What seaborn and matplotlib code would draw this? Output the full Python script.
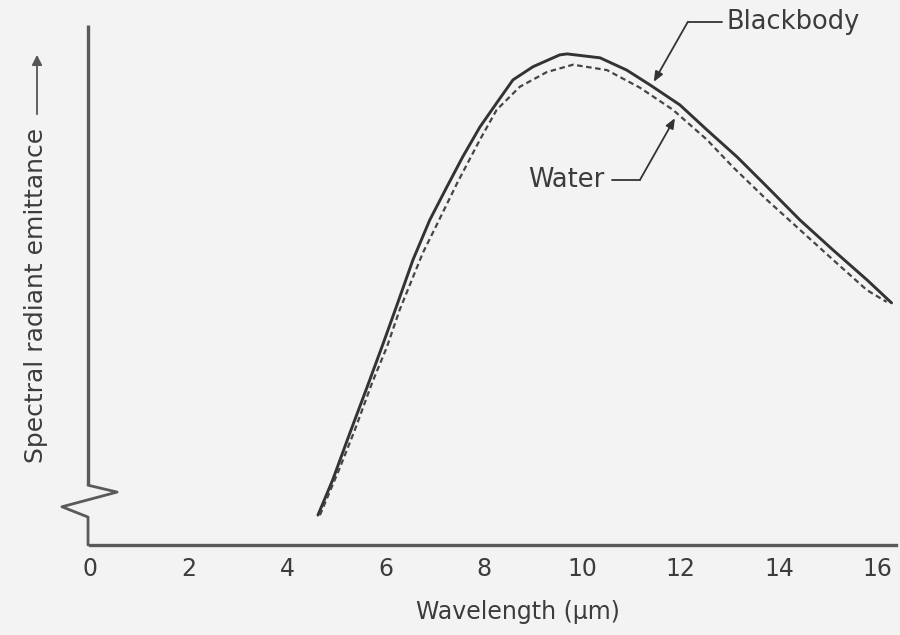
import numpy as np
import pandas as pd
import seaborn as sns
import matplotlib
matplotlib.use("Agg")
import matplotlib.pyplot as plt

# ---- data (wavelength in µm, relative emittance) ----
bb_wavelength = [4.63, 4.93, 5.28, 5.62, 5.95, 6.25, 6.56, 6.90, 7.25, 7.57, 7.92,
                 8.26, 8.59, 9.00, 9.54, 9.69, 10.36, 10.90, 11.37, 11.98, 12.53,
                 13.14, 13.75, 14.42, 15.09, 15.78, 16.28]
bb_emittance = [6.1, 13.3, 22.9, 32.0, 41.0, 49.4, 58.2, 66.3, 73.1, 79.2, 85.3,
                90.2, 94.9, 97.6, 100.0, 100.2, 99.4, 96.9, 93.9, 89.8, 84.7,
                79.2, 73.1, 66.3, 60.2, 54.1, 49.4]

water_wavelength = [4.67, 5.08, 5.38, 5.73, 6.03, 6.29, 6.76, 7.07, 7.46, 7.92, 8.26,
                    8.73, 9.28, 9.81, 10.50, 11.17, 11.84, 12.53, 13.06, 13.75, 14.42,
                    15.09, 15.78, 16.18]
water_emittance = [6.1, 15.9, 23.5, 33.1, 40.4, 48.0, 59.6, 65.9, 73.9, 82.7, 88.8,
                   93.5, 96.5, 98.0, 96.9, 93.3, 88.8, 82.7, 77.1, 70.4, 64.3,
                   58.2, 52.0, 49.6]

x_ticks = [0, 2, 4, 6, 8, 10, 12, 14, 16]
x_tick_labels = ["0", "2", "4", "6", "8", "10", "12", "14", "16"]

df = pd.concat([
    pd.DataFrame({"wavelength": bb_wavelength, "emittance": bb_emittance, "series": "Blackbody"}),
    pd.DataFrame({"wavelength": water_wavelength, "emittance": water_emittance, "series": "Water"}),
])

sns.set_style("white")
plt.rcParams["font.family"] = ["DejaVu Sans"]

BG = "#f3f3f3"
INK = "#333333"
AXC = "#5a5a5a"
TXT = "#3c3c3c"

fig = plt.figure(figsize=(9, 6.35), dpi=100, facecolor=BG)
ax = fig.add_axes([0.1, 1 - 545 / 635, (896 - 90) / 900, 545 / 635])
ax.set_facecolor(BG)

sns.lineplot(data=df, x="wavelength", y="emittance", hue="series", style="series",
             palette={"Blackbody": INK, "Water": "#454545"},
             dashes={"Blackbody": "", "Water": (2.5, 1.6)},
             sort=False, estimator=None, legend=False, ax=ax)
lines = ax.get_lines()
lines[0].set_linewidth(2.1)
lines[1].set_linewidth(1.6)

ax.set_xlim(0, 16.37)
ax.set_ylim(0, 111.2)

for s in ["top", "right", "left"]:
    ax.spines[s].set_visible(False)
ax.spines["bottom"].set_color(AXC)
ax.spines["bottom"].set_linewidth(2.4)

ax.set_xticks(x_ticks)
ax.set_xticklabels(x_tick_labels)
ax.set_yticks([])
ax.tick_params(axis="x", direction="in", length=13, width=1.8, color=AXC,
               pad=9, labelsize=17, labelcolor=TXT)
ax.set_xlabel("")
ax.set_ylabel("")

# broken y axis (decoration)
ax.plot([-0.04, -0.04], [12.2, 106.1], color=AXC, lw=2.4, clip_on=False, solid_capstyle="butt")
ax.plot([-0.04, 0.55, -0.57, -0.04, -0.04], [12.2, 10.8, 7.8, 5.7, 0.0],
        color=AXC, lw=2.0, clip_on=False)

# axis titles
fig.text(518 / 900, 1 - 612 / 635, "Wavelength (\u03bcm)", ha="center", va="center",
         fontsize=17, color=TXT)
fig.text(36 / 900, 1 - 295 / 635, "Spectral radiant emittance", rotation=90,
         ha="center", va="center", fontsize=18, color=TXT)
fig.add_artist(matplotlib.patches.FancyArrowPatch(
    (37 / 900, 1 - 117 / 635), (37 / 900, 1 - 52 / 635), transform=fig.transFigure,
    arrowstyle="-|>,head_length=6,head_width=3", color="#555555", lw=1.3))

# callout labels
ax.text(12.93, 106.7, "Blackbody", ha="left", va="center", fontsize=18.5, color=TXT)
ax.plot([12.84, 12.14], [106.7, 106.7], color=INK, lw=1.3)
ax.annotate("", xy=(11.45, 94.5), xytext=(12.14, 106.7),
            arrowprops=dict(arrowstyle="-|>,head_length=0.6,head_width=0.25", color=INK, lw=1.3,
                            shrinkA=0, shrinkB=0))

ax.text(10.46, 74.5, "Water", ha="right", va="center", fontsize=18.5, color=TXT)
ax.plot([10.6, 11.17], [74.5, 74.5], color=INK, lw=1.3)
ax.annotate("", xy=(11.88, 87.1), xytext=(11.17, 74.5),
            arrowprops=dict(arrowstyle="-|>,head_length=0.6,head_width=0.25", color=INK, lw=1.3,
                            shrinkA=0, shrinkB=0))

fig.savefig("out.png", dpi=100, facecolor=BG)
